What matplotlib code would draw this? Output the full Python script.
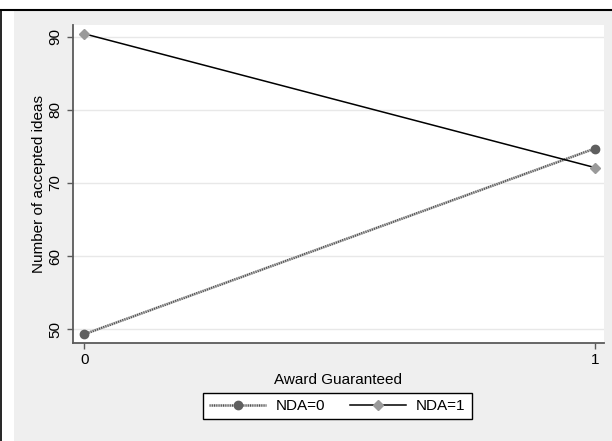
import matplotlib.pyplot as plt
from matplotlib.lines import Line2D
from matplotlib.patches import Rectangle

plt.rcParams['font.family'] = ['Liberation Sans', 'DejaVu Sans']

# interaction plot: accepted ideas by award guarantee and NDA
award = [0, 1]
nda0 = [49.3, 74.7]
nda1 = [90.4, 72.1]
yticks = [50, 60, 70, 80, 90]

fig = plt.figure(figsize=(6.12, 4.41), dpi=100, facecolor='white')
W, H = 612.0, 441.0

# grey graph region with black edge on top/left
fig.patches.append(Rectangle((14 / W, 0), 1 - 14 / W, (H - 10) / H,
                             transform=fig.transFigure, facecolor='#efefef',
                             edgecolor='none', zorder=-10))
fig.lines.append(Line2D([0, 1], [(H - 9.5) / H] * 2, transform=fig.transFigure,
                        color='black', lw=1.5))
fig.lines.append(Line2D([0.5 / W] * 2, [0, (H - 9.5) / H], transform=fig.transFigure,
                        color='black', lw=1.2))

ax = fig.add_axes([73 / W, (H - 343) / H, 531 / W, 318 / H])
ax.set_facecolor('white')

ax.plot(award, nda0, color='#505050', gapcolor='#c0c0c0', dashes=(0.45, 0.45), lw=1.8,
        marker='o', markersize=6, markerfacecolor='#5f5f5f',
        markeredgecolor='#5f5f5f', label='NDA=0', zorder=3)
ax.plot(award, nda1, color='black', lw=1.1,
        marker='D', markersize=5.5, markerfacecolor='#9a9a9a',
        markeredgecolor='#9a9a9a', label='NDA=1', zorder=3)

ax.set_xlim(-0.022, 1.018)
ax.set_ylim(48.1, 91.6)
ax.set_xticks(award)
ax.set_yticks(yticks)
ax.set_yticklabels([str(v) for v in yticks], rotation=90, va='center')
ax.grid(axis='y', color='#e8e8e8', lw=1)
ax.set_axisbelow(True)

for s in ['top', 'right']:
    ax.spines[s].set_visible(False)
for s in ['left', 'bottom']:
    ax.spines[s].set_color('#5a5a5a')
    ax.spines[s].set_linewidth(1.3)
ax.tick_params(axis='both', direction='out', length=4.5, width=1,
               color='#5a5a5a', labelsize=11, pad=3)

ax.set_xlabel('Award Guaranteed', fontsize=11, labelpad=4)
ax.set_ylabel('Number of accepted ideas', fontsize=11, labelpad=2)

leg = fig.legend(loc='center', bbox_to_anchor=(337.5 / W, 35 / H), ncol=2,
                 fontsize=11, frameon=True, fancybox=False, handlelength=3.7,
                 handletextpad=0.65, columnspacing=1.6, borderpad=0.4,
                 borderaxespad=0)
leg.get_frame().set_edgecolor('black')
leg.get_frame().set_linewidth(1)
leg.get_frame().set_facecolor('white')
leg.get_frame().set_alpha(1)

fig.savefig('out.png', dpi=100, facecolor=fig.get_facecolor())
